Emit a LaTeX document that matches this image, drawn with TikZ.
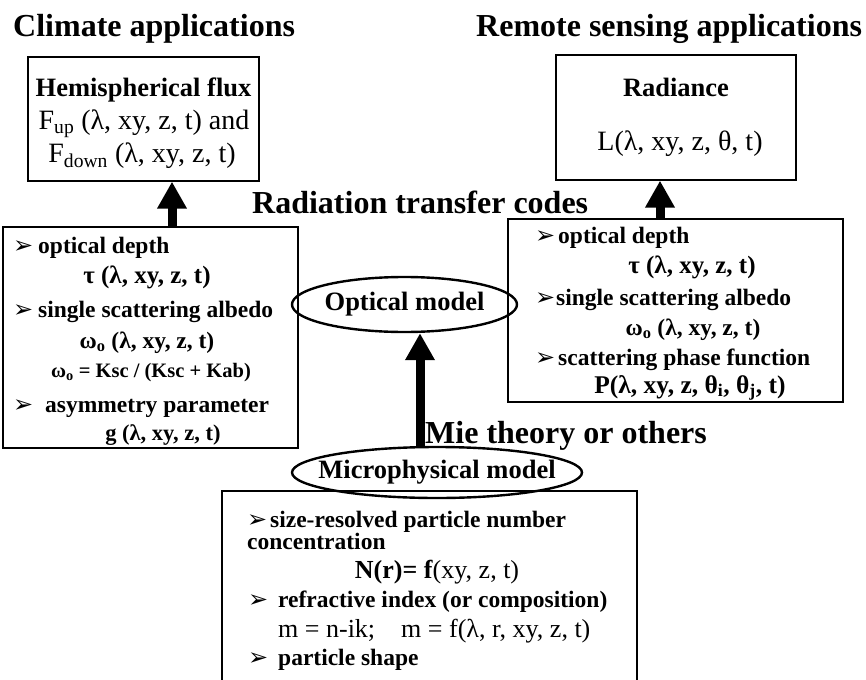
\documentclass[tikz,border=0pt]{standalone}
\usepackage{fontspec}
\setmainfont{Liberation Serif}
\newfontfamily\dingfont{DejaVu Sans}
\usetikzlibrary{arrows.meta,shapes.geometric}
\newcommand\fs[1]{\fontsize{#1}{#1}\selectfont}
\newcommand\bul[1]{\makebox[#1pt][l]{\dingfont\fs{24}➢}}
\tikzset{
  head/.style={inner sep=0pt,anchor=base west,font=\bfseries\fs{32}},
  box/.style={draw,line width=1.3pt,inner sep=0pt},
  oval/.style={draw,ellipse,line width=2.4pt,inner sep=0pt,font=\bfseries\fs{26.5}},
  lft/.style={inner sep=0pt,anchor=base west,font=\bfseries\fs{23.5}},
  mid/.style={inner sep=0pt,anchor=base,font=\bfseries\fs{23.5}},
  bigarrow/.style={line width=9pt,-{Triangle[width=28pt,length=27pt]}}
}
\begin{document}
\begin{tikzpicture}[x=1pt,y=-1pt]
\useasboundingbox (0,0) rectangle (866,679);
\clip (0,0) rectangle (866,679);
\node[head] (climate) at (13,37) {Climate applications};
\node[head] (remote) at (476,37) {Remote sensing applications};
\node[head] (rtc) at (252,213) {Radiation transfer codes};
\node[head] (mie) at (425,443) {Mie theory or others};
% output boxes
\node[box,minimum width=231pt,minimum height=124pt] (flux) at (143.5,119) {};
\node[mid,font=\bfseries\fs{26.5}] (fluxa) at (143.5,97) {Hemispherical flux};
\node[mid,font=\fs{28}] (fluxb) at (144,130) {F\textsubscript{up} (λ, xy, z, t) and};
\node[mid,font=\fs{28}] (fluxc) at (142,162) {F\textsubscript{down} (λ, xy, z, t)};
\node[box,minimum width=240pt,minimum height=125pt] (rad) at (676,117.5) {};
\node[mid,font=\bfseries\fs{26.5}] (rada) at (676,97) {Radiance};
\node[mid,font=\fs{28}] (radb) at (680,150) {L(λ, xy, z, θ, t)};
% optical properties, left
\node[box,minimum width=295pt,minimum height=221pt] (lbox) at (150.5,337.5) {};
\node[lft] (l1) at (13,253) {\bul{25}optical depth};
\node[mid,font=\bfseries\fs{25}] (l2) at (147,283) {τ (λ, xy, z, t)};
\node[lft] (l3) at (13,317) {\bul{25}single scattering albedo};
\node[mid] (l4) at (147,348) {ω\textsubscript{o} (λ, xy, z, t)};
\node[mid,font=\bfseries\fs{20.5}] (l5) at (151,377) {ω\textsubscript{o} = Ksc / (Ksc + Kab)};
\node[lft] (l6) at (13,412) {\bul{32}asymmetry parameter};
\node[mid,font=\bfseries\fs{22.5}] (l7) at (163,440) {g (λ, xy, z, t)};
% optical properties, right
\node[box,minimum width=335pt,minimum height=183pt] (rbox) at (675.5,310.5) {};
\node[lft] (r1) at (535,243) {\bul{23}optical depth};
\node[mid,font=\bfseries\fs{25}] (r2) at (692,273) {τ (λ, xy, z, t)};
\node[lft] (r3) at (535,305) {\bul{21}single scattering albedo};
\node[mid] (r4) at (693,335) {ω\textsubscript{o} (λ, xy, z, t)};
\node[lft] (r5) at (535,365) {\bul{23}scattering phase function};
\node[mid,font=\bfseries\fs{25.5}] (r6) at (690,393) {P(λ, xy, z, θ\textsubscript{i}, θ\textsubscript{j}, t)};
% models
\node[oval,minimum width=225pt,minimum height=55pt] (optical) at (404.5,304.5) {\makebox[0pt]{Optical model}};
\node[oval,fill=white,minimum width=290pt,minimum height=51pt] (micro) at (437,472.5) {\makebox[0pt]{Microphysical model}};
\node[box,minimum width=415pt,minimum height=229pt] (mbox) at (429.5,605.5) {};
\node[lft] (m1) at (247,527) {\bul{23}size-resolved particle number};
\node[lft] (m2) at (247,549) {concentration};
\node[mid,font=\bfseries\fs{26}] (m3) at (437,578) {N(r)= f\textmd{(xy, z, t)}};
\node[lft] (m4) at (248,607) {\bul{30}refractive index (or composition)};
\node[lft,font=\fs{26}] (m5) at (278,637) {m = n-ik;\quad m = f(λ, r, xy, z, t)};
\node[lft] (m6) at (248,665) {\bul{30}particle shape};
% arrows
\coordinate (la) at (172,0);
\coordinate (ra) at (660,0);
\coordinate (ma) at (420,0);
\draw[bigarrow] (la |- lbox.north) -- (la |- flux.south);
\draw[bigarrow] (ra |- rbox.north) -- (ra |- rad.south);
\draw[bigarrow] (ma |- micro.north) -- (ma |- optical.south);
\end{tikzpicture}
\end{document}
